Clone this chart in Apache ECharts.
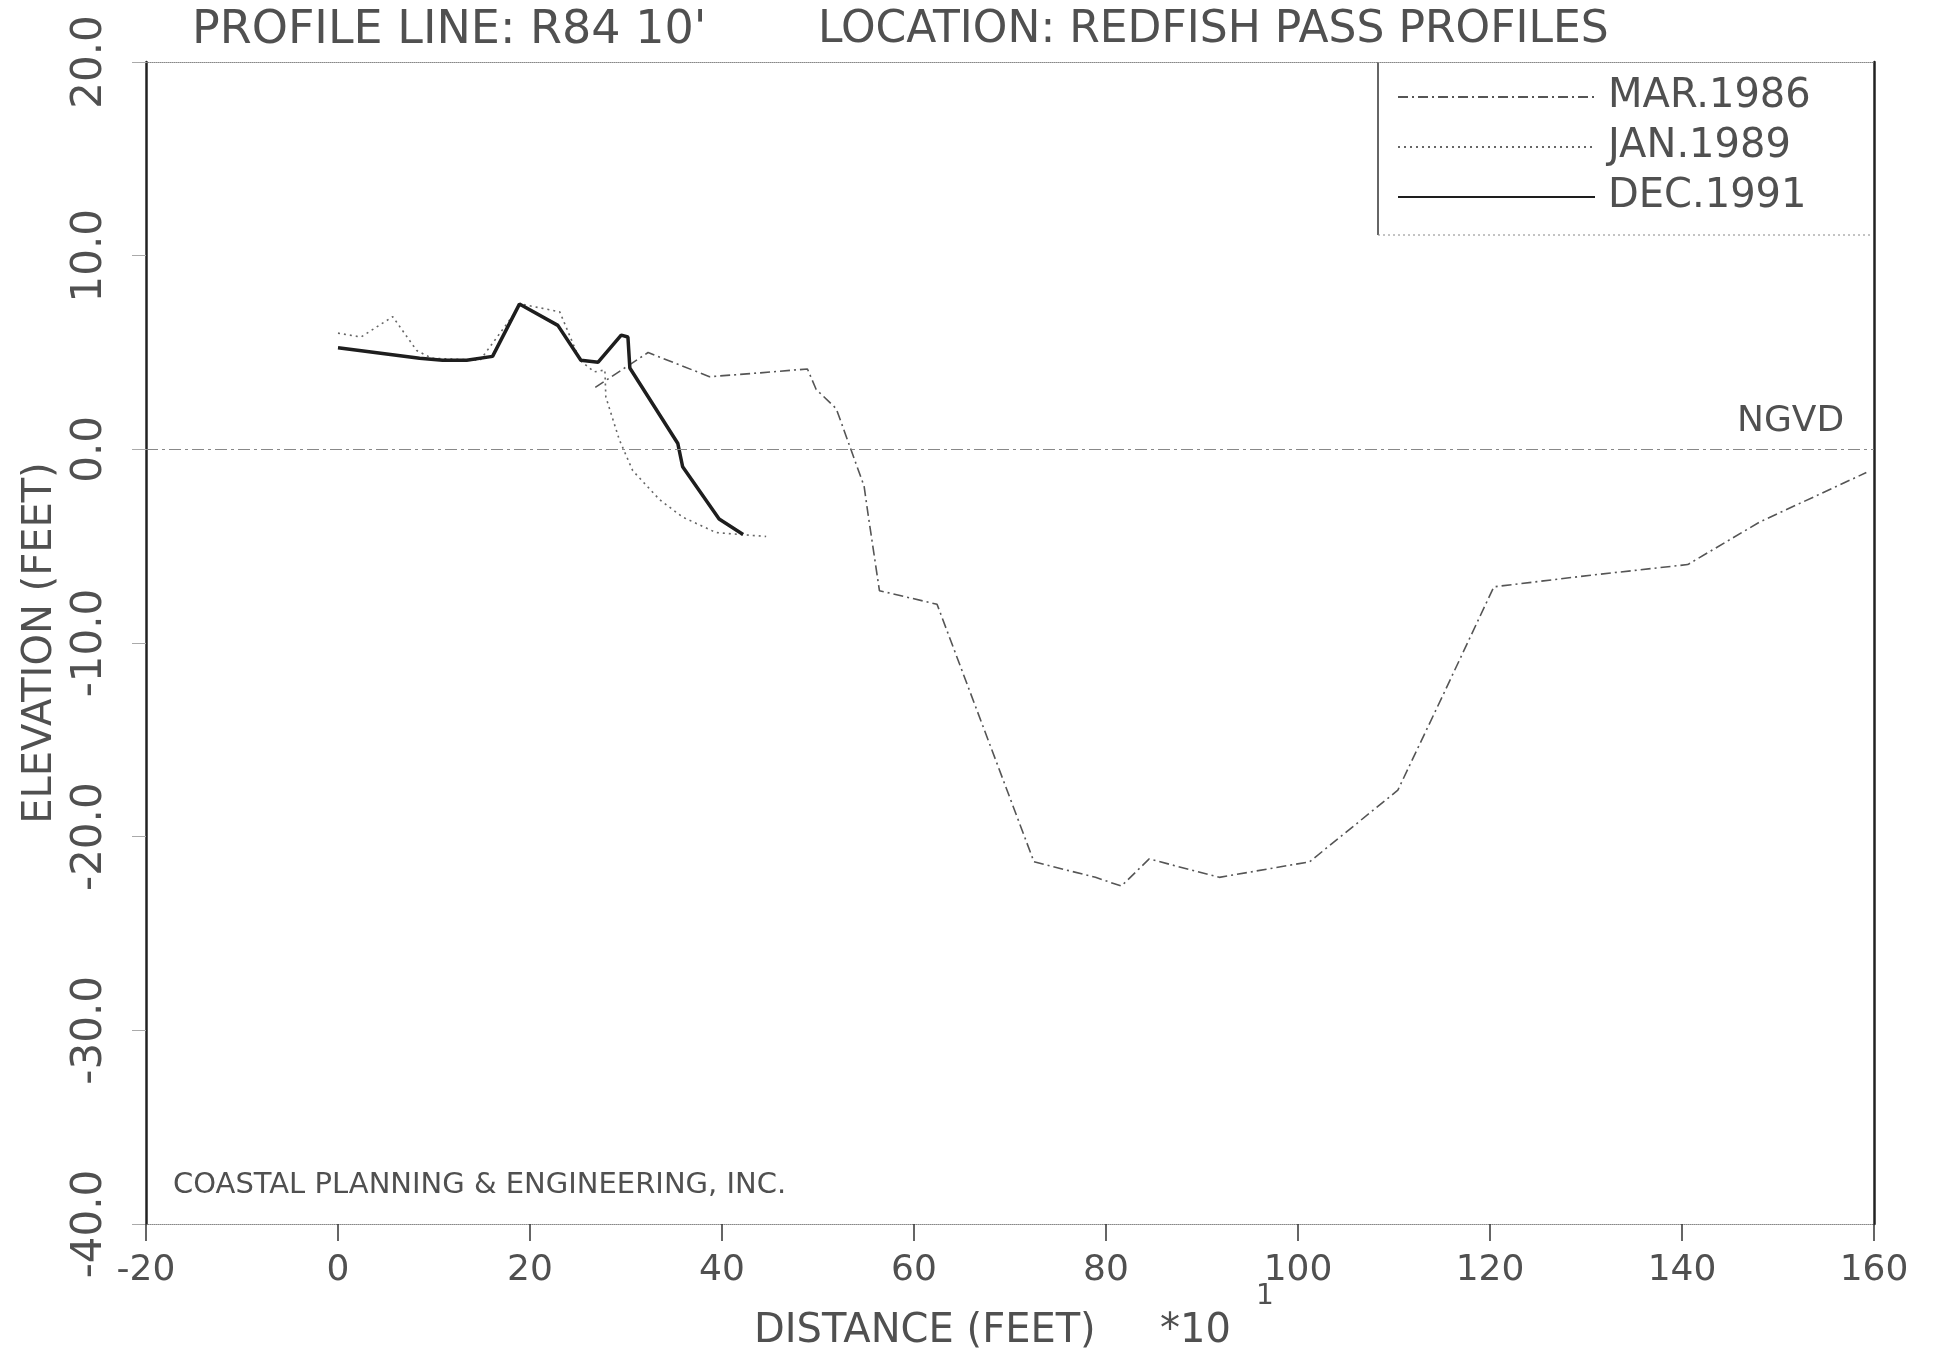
<!DOCTYPE html>
<html>
<head>
<meta charset="utf-8">
<title>Profile Line R84 10' - Redfish Pass Profiles</title>
<script src="https://cdn.jsdelivr.net/npm/echarts@6/dist/echarts.min.js"></script>
<style>
html, body { margin: 0; padding: 0; background: #fff; }
#chart { width: 1938px; height: 1357px; }
</style>
</head>
<body>
<div id="chart"></div>
<script>
// distance (feet *10) and elevation (feet)
var mar1986X = [26.8, 32.3, 38.7, 44.0, 48.9, 49.8, 51.9, 54.8, 55.2, 56.4, 62.4, 72.5, 78.9, 81.6, 84.5, 91.8, 101.2, 110.4, 115.0, 120.4, 130.5, 140.6, 148.1, 159.2];
var mar1986Y = [3.2, 5.0, 3.75, 3.95, 4.15, 3.1, 2.1, -1.9, -3.3, -7.3, -8.0, -21.3, -22.1, -22.55, -21.15, -22.1, -21.3, -17.6, -12.8, -7.1, -6.5, -5.95, -3.75, -1.2];

var jan1989X = [0, 2.4, 5.7, 8.2, 9.8, 14.8, 19.1, 23.1, 25.2, 26.7, 27.8, 27.9, 29.3, 30.7, 33.5, 35.9, 39.4, 44.6];
var jan1989Y = [6.0, 5.8, 6.85, 5.1, 4.7, 4.6, 7.5, 7.1, 4.6, 4.0, 4.1, 2.7, 0.5, -1.1, -2.6, -3.5, -4.3, -4.5];

var dec1991X = [0, 8.5, 10.9, 13.4, 16.1, 18.9, 22.9, 25.3, 27.1, 29.5, 30.2, 30.4, 35.4, 35.9, 39.7, 42.2];
var dec1991Y = [5.25, 4.7, 4.6, 4.6, 4.8, 7.5, 6.4, 4.6, 4.5, 5.9, 5.8, 4.2, 0.3, -0.9, -3.6, -4.4];

var seriesNames = ['MAR.1986', 'JAN.1989', 'DEC.1991'];
var xTicks = [-20, 0, 20, 40, 60, 80, 100, 120, 140, 160];
var yTicks = [-40, -30, -20, -10, 0, 10, 20];

var FONT = 'DejaVu Sans';
var INK = '#505050';

function pairs(xs, ys) {
	return xs.map(function (x, i) { return [x, ys[i]]; });
}

var myChart = echarts.init(document.getElementById('chart'));
var option = {
	backgroundColor: '#fff',
	animation: false,
	textStyle: { fontFamily: FONT, color: INK },
	title: [{
		text: "PROFILE LINE: R84 10'",
		left: 192, top: 8, padding: 0,
		textStyle: { fontFamily: FONT, fontSize: 46, fontWeight: 'normal', color: INK }
	}, {
		text: 'LOCATION: REDFISH PASS PROFILES',
		left: 818, top: 9, padding: 0,
		textStyle: { fontFamily: FONT, fontSize: 44, fontWeight: 'normal', color: INK }
	}],
	grid: {
		left: 146, right: 64, top: 62, bottom: 133,
		outerBoundsMode: 'none'
	},
	legend: {
		orient: 'vertical',
		left: 1397, top: 77,
		padding: 0,
		itemWidth: 197, itemHeight: 14, itemGap: 10,
		data: seriesNames,
		itemStyle: { opacity: 0 },
		lineStyle: { opacity: 1 },
		textStyle: { fontFamily: FONT, fontSize: 40, lineHeight: 40, color: INK, padding: [0, 0, 0, 8] }
	},
	xAxis: [{
		type: 'value',
		min: xTicks[0], max: xTicks[xTicks.length - 1], interval: 20,
		axisLine: { onZero: false, lineStyle: { color: '#888', width: 1, type: 'dotted' } },
		axisTick: { inside: false, length: 17, lineStyle: { color: '#333', width: 1.5 } },
		axisLabel: { fontFamily: FONT, fontSize: 36, color: INK, margin: 29 },
		splitLine: { show: false }
	}, {
		type: 'value', position: 'top',
		min: xTicks[0], max: xTicks[xTicks.length - 1],
		axisLine: { onZero: false, lineStyle: { color: '#888', width: 1, type: 'dotted' } },
		axisTick: { show: false }, axisLabel: { show: false }, splitLine: { show: false }
	}],
	yAxis: [{
		type: 'value',
		min: yTicks[0], max: yTicks[yTicks.length - 1], interval: 10,
		name: 'ELEVATION (FEET)',
		nameLocation: 'middle', nameRotate: 90, nameGap: 80,
		nameTextStyle: { fontFamily: FONT, fontSize: 40, color: INK },
		axisLine: { onZero: false, lineStyle: { color: '#222', width: 2.5 } },
		axisTick: { length: 14, lineStyle: { color: '#aaa', width: 1 } },
		axisLabel: {
			fontFamily: FONT, fontSize: 42, color: INK, rotate: 90, margin: 35,
			formatter: function (v) { return v.toFixed(1); }
		},
		splitLine: { show: false }
	}, {
		type: 'value', position: 'right',
		min: yTicks[0], max: yTicks[yTicks.length - 1],
		axisLine: { onZero: false, lineStyle: { color: '#222', width: 2.5 } },
		axisTick: { show: false }, axisLabel: { show: false }, splitLine: { show: false }
	}],
	graphic: [
		// legend box edges (top and right edges are the plot frame)
		{ type: 'line', shape: { x1: 1378, y1: 62, x2: 1378, y2: 235 }, style: { stroke: '#333', lineWidth: 1.5 } },
		{ type: 'line', shape: { x1: 1378, y1: 235, x2: 1873, y2: 235 }, style: { stroke: '#888', lineWidth: 1, lineDash: [2, 3] } },
		{ type: 'text', left: 1737, top: 404, style: { text: 'NGVD', font: '36px "DejaVu Sans"', fill: INK } },
		{ type: 'text', left: 173, top: 1171, style: { text: 'COASTAL PLANNING & ENGINEERING, INC.', font: '29px "DejaVu Sans"', fill: INK } },
		{ type: 'text', left: 754, top: 1312, style: { text: 'DISTANCE (FEET)', font: '40px "DejaVu Sans"', fill: INK } },
		{ type: 'text', left: 1160, top: 1312, style: { text: '*10', font: '40px "DejaVu Sans"', fill: INK } },
		{ type: 'text', left: 1256, top: 1283, style: { text: '1', font: '28px "DejaVu Sans"', fill: INK } }
	],
	series: [{
		name: seriesNames[0],
		type: 'line',
		data: pairs(mar1986X, mar1986Y),
		symbol: 'none',
		lineStyle: { color: '#555', width: 1.6, type: [10, 4, 2, 4] },
		itemStyle: { color: '#555' },
		markLine: {
			silent: true,
			symbol: 'none',
			label: { show: false },
			lineStyle: { color: '#888', width: 1.2, type: [12, 4, 3, 4] },
			data: [{ yAxis: 0 }]
		}
	}, {
		name: seriesNames[1],
		type: 'line',
		data: pairs(jan1989X, jan1989Y),
		symbol: 'none',
		lineStyle: { color: '#666', width: 1.6, type: [2, 4] },
		itemStyle: { color: '#666' }
	}, {
		name: seriesNames[2],
		type: 'line',
		data: pairs(dec1991X, dec1991Y),
		symbol: 'none',
		lineStyle: { color: '#1e1e1e', width: 3.5, type: 'solid' },
		itemStyle: { color: '#1e1e1e' }
	}]
};
myChart.setOption(option);
</script>
</body>
</html>
